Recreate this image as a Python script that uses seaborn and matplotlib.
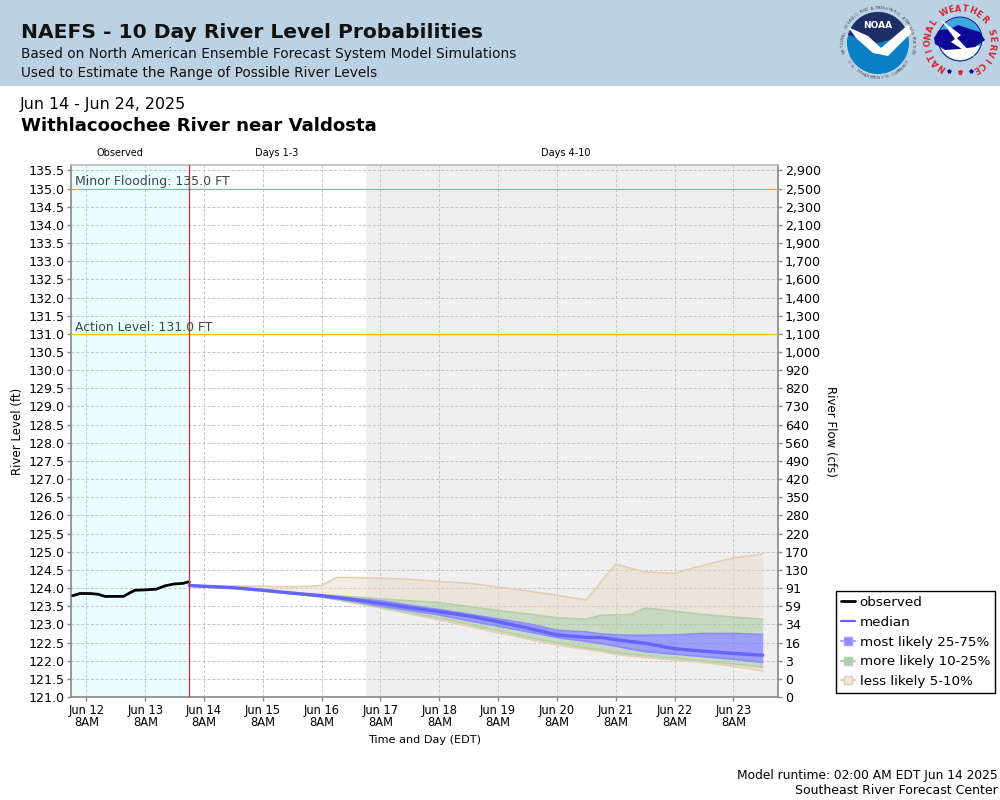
import numpy as np
import matplotlib
matplotlib.use("Agg")
import matplotlib.pyplot as plt
import seaborn as sns
from matplotlib.lines import Line2D
from matplotlib.patches import Circle, Polygon, Rectangle, Wedge

# days after Jun 12 8AM
obs_t = [-0.235, -0.11, 0.06, 0.2, 0.315, 0.626, 0.74, 0.825, 0.995, 1.19, 1.335, 1.476, 1.646, 1.73, 1.75]
obs_level = [123.79, 123.85, 123.85, 123.83, 123.77, 123.77, 123.87, 123.94, 123.95, 123.97, 124.06, 124.11, 124.13, 124.17, 124.16]

fc_t = [1.75, 2, 2.5, 3, 3.5, 4, 4.25, 4.5, 5, 5.5, 6, 6.5, 7, 7.5, 8, 8.5, 8.75, 9, 9.25, 9.5, 10, 10.5, 11, 11.5]
top = [124.08, 124.06, 124.05, 124.05, 124.03, 124.07, 124.29, 124.29, 124.27, 124.24, 124.18, 124.13, 124.03, 123.92, 123.8, 123.67, 124.17, 124.66, 124.55, 124.44, 124.41, 124.63, 124.83, 124.94]
green_hi = [124.07, 124.05, 124.02, 123.96, 123.88, 123.81, 123.79, 123.76, 123.70, 123.65, 123.6, 123.49, 123.38, 123.29, 123.18, 123.14, 123.25, 123.26, 123.27, 123.45, 123.36, 123.27, 123.2, 123.14]
blue_hi = [124.07, 124.05, 124.01, 123.95, 123.87, 123.8, 123.76, 123.72, 123.65, 123.53, 123.41, 123.28, 123.15, 123.02, 122.84, 122.79, 122.74, 122.71, 122.7, 122.7, 122.71, 122.75, 122.75, 122.72]
median = [124.07, 124.05, 124.01, 123.94, 123.86, 123.79, 123.74, 123.69, 123.58, 123.46, 123.35, 123.23, 123.07, 122.9, 122.71, 122.64, 122.64, 122.58, 122.53, 122.48, 122.33, 122.26, 122.2, 122.15]
blue_lo = [124.06, 124.04, 124.0, 123.93, 123.85, 123.77, 123.71, 123.65, 123.5, 123.38, 123.26, 123.1, 122.95, 122.8, 122.64, 122.53, 122.47, 122.4, 122.32, 122.25, 122.18, 122.11, 122.04, 121.95]
green_lo = [124.05, 124.03, 123.99, 123.92, 123.84, 123.75, 123.69, 123.62, 123.47, 123.32, 123.18, 123.0, 122.83, 122.65, 122.49, 122.35, 122.3, 122.22, 122.18, 122.14, 122.07, 121.99, 121.91, 121.82]
bottom = [124.05, 124.03, 123.99, 123.92, 123.84, 123.75, 123.68, 123.6, 123.45, 123.29, 123.12, 122.95, 122.77, 122.6, 122.43, 122.31, 122.25, 122.17, 122.13, 122.09, 122.02, 121.95, 121.85, 121.72]

level_ticks = [121 + 0.5 * i for i in range(30)]
flow_labels = ["0", "0", "3", "16", "34", "59", "91", "130", "170", "220", "280", "350", "420", "490", "560",
               "640", "730", "820", "920", "1,000", "1,100", "1,300", "1,400", "1,600", "1,700", "1,900",
               "2,100", "2,300", "2,500", "2,900"]
day_ticks = list(range(12))
day_labels = ["Jun %d\n8AM" % d for d in range(12, 24)]

sns.set_theme(style="white", font="DejaVu Sans")
fig = plt.figure(figsize=(10, 8), dpi=100)

# page furniture in pixel coordinates
page = fig.add_axes([0, 0, 1, 1], zorder=0)
page.set_xlim(0, 1000)
page.set_ylim(800, 0)
page.axis("off")
page.add_patch(Rectangle((0, 0), 1000, 85.5, color="#BBD1E4", lw=0))
page.text(21, 33, "NAEFS - 10 Day River Level Probabilities", fontsize=14.6, fontweight="bold", va="center", color="#111111")
page.text(21, 54, "Based on North American Ensemble Forecast System Model Simulations", fontsize=9.83, va="center", color="#111111")
page.text(21, 73, "Used to Estimate the Range of Possible River Levels", fontsize=9.83, va="center", color="#111111")
page.text(20, 105, "Jun 14 - Jun 24, 2025", fontsize=11.4, va="center", color="black")
page.text(21, 126, "Withlacoochee River near Valdosta", fontsize=13.07, fontweight="bold", va="center", color="black")
page.text(120, 153.5, "Observed", fontsize=7, ha="center", va="center", color="black")
page.text(276.5, 153.5, "Days 1-3", fontsize=7, ha="center", va="center", color="black")
page.text(566, 153.5, "Days 4-10", fontsize=7, ha="center", va="center", color="black")
page.text(18, 431, "River Level (ft)", fontsize=8.5, rotation=90, ha="center", va="center", color="black")
page.text(831, 431, "River Flow (cfs)", fontsize=8.5, rotation=-90, ha="center", va="center", color="black")
page.text(425, 740, "Time and Day (EDT)", fontsize=8.1, ha="center", va="center", color="black")
page.text(998, 775, "Model runtime: 02:00 AM EDT Jun 14 2025", fontsize=8.8, ha="right", va="center", color="black")
page.text(998, 791, "Southeast River Forecast Center", fontsize=9.0, ha="right", va="center", color="black")

# NOAA logo, y axis is flipped so wedge angles run clockwise on screen
page.add_patch(Circle((878, 43), 31, color="#0B7FC4", lw=0))
page.add_patch(Wedge((878, 43), 31, 195, 345, color="#1D2F66", lw=0))
page.add_patch(Polygon([(848, 27), (868, 36), (881, 48), (909, 24), (911, 33), (888, 56), (873, 53), (857, 39)], color="white", lw=0))
page.text(878, 25, "NOAA", fontsize=6.5, fontweight="bold", color="white", ha="center", va="center")
for i, ch in enumerate("NATIONAL OCEANIC AND ATMOSPHERIC ADMINISTRATION"):
    a = np.radians(195 - i * 210 / 46)
    page.text(878 + 35 * np.cos(a), 43 - 35 * np.sin(a), ch, fontsize=2.9, color="#444444", rotation=np.degrees(a) - 90, ha="center", va="center")
for i, ch in enumerate("U.S. DEPARTMENT OF COMMERCE"):
    a = np.radians(212 + i * 116 / 26)
    page.text(878 + 35 * np.cos(a), 43 - 35 * np.sin(a), ch, fontsize=2.9, color="#444444", rotation=np.degrees(a) + 90, ha="center", va="center")

# NWS logo
page.add_patch(Circle((960, 39), 22, color="#3BA9DF", ec="#0A0A80", lw=0.6))
page.add_patch(Wedge((960, 39), 21, 20, 160, color="white", lw=0))
page.add_patch(Polygon([(934, 38), (939, 30), (950, 29), (958, 25), (970, 29), (980, 32), (985, 40), (975, 47), (960, 49), (945, 50), (935, 44)], color="#0A0A96", lw=0))
page.add_patch(Polygon([(941, 20), (961, 35), (957, 38), (976, 58), (951, 42), (955, 39)], color="white", lw=0))
for i, ch in enumerate("NATIONAL WEATHER SERVICE"):
    a = np.radians(235 - i * 296 / 23)
    page.text(960 + 32 * np.cos(a), 41 - 32 * np.sin(a), ch, fontsize=6, fontweight="bold", color="#D9232E", rotation=np.degrees(a) - 90, ha="center", va="center")
page.plot([949, 971], [71, 71], ls="none", marker="*", ms=2.8, color="#0A0A96")
page.plot([960], [72], ls="none", marker="*", ms=3.6, color="#D9232E")

ax = fig.add_axes([0.071, 1 - 697 / 800, 0.707, 532 / 800], zorder=1)
ax.set_facecolor("white")
ax.set_xlim(-0.263, 11.76)
ax.set_ylim(121, 135.65)

ax.axvspan(-0.263, 1.75, color="#E9FFFF", lw=0, zorder=0)
ax.axvspan(4.75, 11.76, color="#EFEFEF", lw=0, zorder=0)

ax.set_xticks(day_ticks)
ax.set_xticklabels(day_labels, fontsize=8.3, color="black", linespacing=0.95)
ax.set_yticks(level_ticks)
ax.set_yticklabels(["%.1f" % v for v in level_ticks], fontsize=9.1, color="black")
ax.grid(True, color="#C4C4C4", lw=0.7, ls=(0, (3, 2)), zorder=1)
ax.set_axisbelow(True)
ax.tick_params(axis="both", length=3, width=1, color="#888888", pad=2, left=True, bottom=True)

# probability bands
tan = "#E6CDB4"
green = "#B4D0A6"
blue = "#8C8CFF"
ax.fill_between(fc_t, green_hi, top, color="#E8D8C4", alpha=0.45, lw=0, zorder=2)
ax.fill_between(fc_t, bottom, green_lo, color="#E8D8C4", alpha=0.45, lw=0, zorder=2)
ax.fill_between(fc_t, blue_hi, green_hi, color="#A8C89C", alpha=0.55, lw=0, zorder=2)
ax.fill_between(fc_t, green_lo, blue_lo, color="#A8C89C", alpha=0.55, lw=0, zorder=2)
ax.fill_between(fc_t, blue_lo, blue_hi, color="#7A7AFF", alpha=0.7, lw=0, zorder=2)
for s, c in [(top, tan), (bottom, tan), (green_hi, green), (green_lo, green), (blue_hi, blue), (blue_lo, blue)]:
    sns.lineplot(x=fc_t, y=s, ax=ax, color=c, lw=1.2, estimator=None, sort=False, zorder=3)
sns.lineplot(x=fc_t, y=median, ax=ax, color="#6464FF", lw=2.4, estimator=None, sort=False, zorder=4)
sns.lineplot(x=obs_t, y=obs_level, ax=ax, color="black", lw=2.0, estimator=None, sort=False, zorder=5)

ax.axvline(1.75, color="#CC3333", lw=0.9, zorder=6)
ax.axhline(135, color="#F5A040", lw=0.9, zorder=3)
ax.axhline(131, color="#FFC800", lw=0.9, zorder=3)
ax.text(-0.2, 135.2, "Minor Flooding: 135.0 FT", fontsize=9, color="#444444", va="center", zorder=7)
ax.text(-0.2, 131.18, "Action Level: 131.0 FT", fontsize=8.9, color="#444444", va="center", zorder=7)

ax.spines["top"].set_color("#BBBBBB")
for side in ["left", "bottom", "right"]:
    ax.spines[side].set_color("#888888")
for s in ax.spines.values():
    s.set_linewidth(1.2)

ax2 = ax.twinx()
ax2.set_ylim(ax.get_ylim())
ax2.set_yticks(level_ticks)
ax2.set_yticklabels(flow_labels, fontsize=9.1, color="black")
ax2.tick_params(axis="y", length=3, width=1, color="#888888", pad=2, right=True)
ax2.grid(False)
for s in ax2.spines.values():
    s.set_visible(False)

handles = [
    Line2D([], [], color="black", lw=2),
    Line2D([], [], color="#6464FF", lw=1.6),
    Line2D([], [], color="#A0A0FF", lw=1.5, marker="s", ms=5.5, mfc="#8C8CFF", mec="#A0A0FF"),
    Line2D([], [], color="#B4D0A6", lw=1.5, marker="s", ms=5.5, mfc="#B4CDB0", mec="#B4D0A6"),
    Line2D([], [], color="#E6CDB4", lw=1.5, marker="s", ms=5.5, mfc="#F0E6DA", mec="#E6CDB4"),
]
labels = ["observed", "median", "most likely 25-75%", "more likely 10-25%", "less likely 5-10%"]
leg = fig.legend(handles, labels, loc="upper left", bbox_to_anchor=(0.8355, 1 - 591 / 800), borderaxespad=0,
                 fontsize=9.7, frameon=True, fancybox=False, edgecolor="black", framealpha=1,
                 handlelength=1.07, handletextpad=0.35, labelspacing=0.5, borderpad=0.38)
leg.get_frame().set_linewidth(1.0)
leg.set_zorder(5)
for t in leg.get_texts():
    t.set_color("black")

fig.savefig("out.png", dpi=100)
